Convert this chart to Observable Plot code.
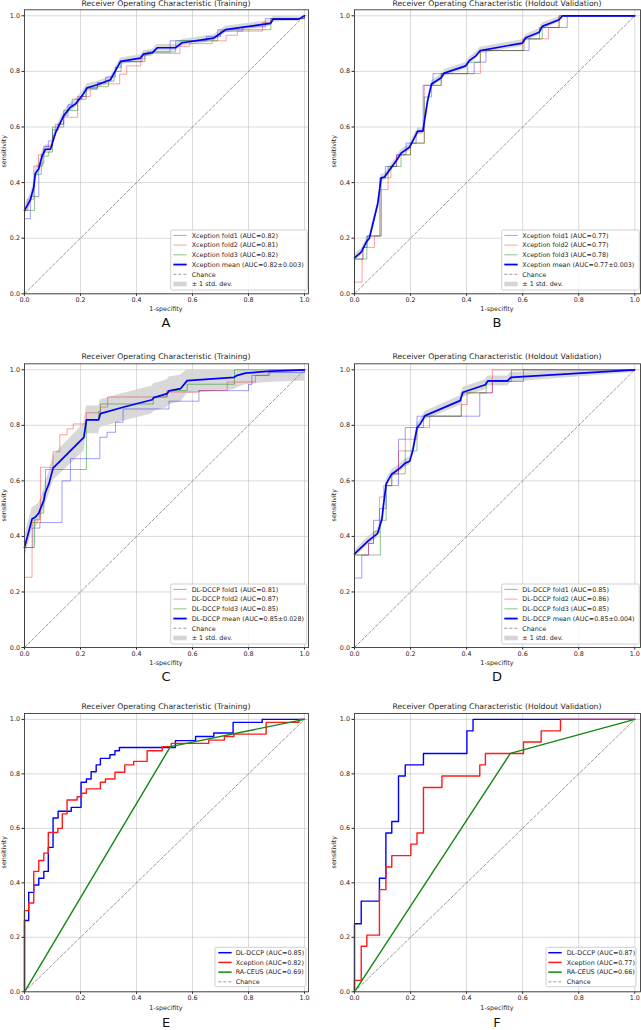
<!DOCTYPE html>
<html><head><meta charset="utf-8">
<script src="https://cdn.jsdelivr.net/npm/d3@7"></script>
<script src="https://cdn.jsdelivr.net/npm/@observablehq/plot@0.6"></script>
<style>
body{margin:0;background:#fff;}
#page{position:relative;width:641px;height:1030px;overflow:hidden;background:#fff;}
#page svg{position:absolute;}
</style></head><body><div id="page"></div>
<script>
// ---------- shared text / ticks ----------
const TICKS = [0, 0.2, 0.4, 0.6, 0.8, 1.0];
const CHANCE = [[0, 0], [1, 1]];
const TITLE_TRAIN = "Receiver Operating Characteristic (Training)";
const TITLE_HOLD = "Receiver Operating Characteristic (Holdout Validation)";
const X_LABEL = "1-specifity";
const Y_LABEL = "sensitivity";
const LETTERS = ["A", "B", "C", "D", "E", "F"];

// ---------- Panel A : Xception, training ----------
const A_fold1 = [[0,0],[0,0.27],[0.021,0.35],[0.051,0.43],[0.06,0.47],[0.069,0.53],[0.085,0.55],[0.10,0.59],[0.12,0.61],[0.14,0.64],[0.155,0.68],[0.17,0.70],[0.205,0.71],[0.22,0.74],[0.26,0.76],[0.29,0.78],[0.325,0.815],[0.345,0.835],[0.42,0.86],[0.44,0.87],[0.52,0.91],[0.65,0.925],[0.70,0.945],[0.78,0.96],[0.86,0.99],[1,1]];
const A_fold2 = [[0,0],[0,0.30],[0.012,0.34],[0.033,0.46],[0.05,0.50],[0.07,0.52],[0.085,0.53],[0.10,0.57],[0.11,0.61],[0.14,0.635],[0.19,0.71],[0.235,0.735],[0.26,0.755],[0.34,0.79],[0.365,0.82],[0.415,0.845],[0.43,0.865],[0.555,0.89],[0.59,0.90],[0.67,0.91],[0.72,0.93],[0.76,0.945],[0.85,0.975],[0.88,0.99],[1,1]];
const A_fold3 = [[0,0],[0,0.30],[0.036,0.43],[0.051,0.46],[0.065,0.495],[0.085,0.51],[0.10,0.60],[0.14,0.66],[0.19,0.70],[0.22,0.74],[0.26,0.745],[0.30,0.765],[0.32,0.80],[0.345,0.835],[0.43,0.86],[0.45,0.87],[0.54,0.91],[0.69,0.95],[0.88,0.99],[1,1]];
const A_mean = [[0,0.30],[0.021,0.338],[0.033,0.383],[0.039,0.434],[0.051,0.45],[0.063,0.497],[0.075,0.52],[0.093,0.52],[0.111,0.58],[0.14,0.641],[0.164,0.671],[0.182,0.683],[0.206,0.713],[0.224,0.741],[0.26,0.752],[0.307,0.77],[0.325,0.803],[0.343,0.836],[0.414,0.848],[0.426,0.863],[0.456,0.867],[0.474,0.885],[0.539,0.885],[0.563,0.903],[0.676,0.92],[0.718,0.95],[0.879,0.973],[0.888,0.988],[0.98,0.988],[1,1]];
const A_std = [0.02,0.02,0.02,0.02,0.02,0.018,0.015,0.015,0.015,0.015,0.015,0.015,0.015,0.015,0.012,0.012,0.012,0.012,0.012,0.012,0.012,0.012,0.012,0.012,0.012,0.012,0.01,0.01,0.008,0];
const A_legend = ["Xception fold1 (AUC=0.82)","Xception fold2 (AUC=0.81)","Xception fold3 (AUC=0.82)","Xception mean (AUC=0.82±0.003)","Chance","± 1 std. dev."];

// ---------- Panel B : Xception, holdout ----------
const B_fold1 = [[0,0],[0,0.125],[0.03,0.167],[0.045,0.208],[0.09,0.417],[0.11,0.458],[0.15,0.5],[0.184,0.542],[0.22,0.583],[0.245,0.75],[0.28,0.792],[0.427,0.833],[0.469,0.875],[0.623,0.917],[0.66,0.958],[0.759,1.0],[1,1]];
const B_fold2 = [[0,0],[0,0.042],[0.027,0.125],[0.03,0.167],[0.071,0.208],[0.095,0.375],[0.12,0.417],[0.13,0.458],[0.15,0.5],[0.2,0.542],[0.249,0.75],[0.31,0.792],[0.449,0.875],[0.6,0.917],[0.692,0.958],[0.73,1.0],[1,1]];
const B_fold3 = [[0,0],[0,0.125],[0.044,0.208],[0.095,0.417],[0.12,0.458],[0.166,0.5],[0.2,0.542],[0.249,0.708],[0.275,0.75],[0.309,0.792],[0.404,0.833],[0.449,0.875],[0.605,0.917],[0.67,0.958],[0.73,1.0],[1,1]];
const B_mean = [[0,0.129],[0.024,0.15],[0.042,0.186],[0.053,0.20],[0.083,0.324],[0.095,0.417],[0.107,0.42],[0.154,0.486],[0.166,0.506],[0.196,0.527],[0.226,0.585],[0.244,0.585],[0.261,0.695],[0.275,0.755],[0.309,0.777],[0.32,0.794],[0.397,0.82],[0.41,0.839],[0.434,0.857],[0.449,0.875],[0.599,0.902],[0.611,0.921],[0.659,0.941],[0.67,0.962],[0.73,0.986],[0.742,1.0],[1,1]];
const B_std = [0.012,0.012,0.012,0.012,0.012,0.012,0.012,0.012,0.012,0.012,0.012,0.012,0.012,0.012,0.012,0.012,0.012,0.012,0.012,0.012,0.012,0.012,0.012,0.012,0.01,0.006,0.006];
const B_legend = ["Xception fold1 (AUC=0.77)","Xception fold2 (AUC=0.77)","Xception fold3 (AUC=0.78)","Xception mean (AUC=0.77±0.003)","Chance","± 1 std. dev."];

// ---------- Panel C : DL-DCCP, training ----------
const C_fold1 = [[0,0],[0,0.36],[0.03,0.43],[0.055,0.45],[0.134,0.60],[0.164,0.68],[0.269,0.757],[0.295,0.775],[0.325,0.811],[0.352,0.859],[0.516,0.887],[0.623,0.925],[0.80,0.947],[0.812,0.98],[0.87,0.99],[1,1]];
const C_fold2 = [[0,0],[0,0.253],[0.027,0.45],[0.057,0.649],[0.102,0.705],[0.126,0.766],[0.152,0.787],[0.174,0.805],[0.221,0.845],[0.271,0.866],[0.297,0.902],[0.507,0.92],[0.623,0.925],[0.724,0.956],[0.825,0.98],[0.876,1.0],[1,1]];
const C_fold3 = [[0,0],[0,0.36],[0.036,0.46],[0.055,0.484],[0.069,0.559],[0.075,0.641],[0.221,0.82],[0.265,0.85],[0.271,0.877],[0.46,0.902],[0.51,0.925],[0.581,0.948],[0.75,1.0],[1,1]];
const C_mean = [[0,0.36],[0.027,0.463],[0.039,0.47],[0.051,0.484],[0.057,0.50],[0.069,0.53],[0.075,0.559],[0.087,0.589],[0.102,0.646],[0.212,0.757],[0.221,0.82],[0.265,0.82],[0.271,0.842],[0.355,0.866],[0.456,0.892],[0.462,0.90],[0.51,0.914],[0.516,0.924],[0.557,0.932],[0.581,0.961],[0.748,0.973],[0.76,0.98],[0.789,0.988],[0.867,0.994],[1,1]];
const C_std = [0.04,0.04,0.04,0.035,0.035,0.035,0.04,0.04,0.045,0.05,0.05,0.05,0.05,0.05,0.05,0.05,0.05,0.05,0.048,0.047,0.045,0.045,0.042,0.04,0.04];
const C_legend = ["DL-DCCP fold1 (AUC=0.81)","DL-DCCP fold2 (AUC=0.87)","DL-DCCP fold3 (AUC=0.85)","DL-DCCP mean (AUC=0.85±0.028)","Chance","± 1 std. dev."];

// ---------- Panel D : DL-DCCP, holdout ----------
const D_fold1 = [[0,0],[0,0.25],[0.026,0.333],[0.05,0.375],[0.068,0.458],[0.089,0.5],[0.113,0.583],[0.157,0.75],[0.181,0.792],[0.223,0.833],[0.447,0.917],[0.492,0.958],[0.603,1.0],[1,1]];
const D_fold2 = [[0,0],[0,0.333],[0.05,0.375],[0.068,0.417],[0.089,0.542],[0.104,0.583],[0.133,0.625],[0.157,0.708],[0.181,0.75],[0.223,0.792],[0.268,0.833],[0.381,0.875],[0.402,0.917],[0.492,1.0],[1,1]];
const D_fold3 = [[0,0],[0,0.333],[0.092,0.458],[0.113,0.583],[0.133,0.625],[0.181,0.708],[0.223,0.792],[0.246,0.833],[0.381,0.917],[0.47,0.958],[0.56,1.0],[1,1]];
const D_mean = [[0,0.337],[0.05,0.385],[0.082,0.41],[0.098,0.463],[0.104,0.517],[0.113,0.589],[0.133,0.625],[0.145,0.633],[0.163,0.647],[0.181,0.664],[0.197,0.671],[0.208,0.709],[0.223,0.791],[0.235,0.806],[0.252,0.835],[0.377,0.889],[0.387,0.919],[0.467,0.946],[0.476,0.96],[0.546,0.96],[0.558,0.973],[1,1]];
const D_std = [0.012,0.015,0.015,0.015,0.015,0.015,0.015,0.015,0.015,0.015,0.015,0.015,0.015,0.015,0.015,0.018,0.018,0.018,0.018,0.018,0.018,0.01];
const D_legend = ["DL-DCCP fold1 (AUC=0.85)","DL-DCCP fold2 (AUC=0.86)","DL-DCCP fold3 (AUC=0.85)","DL-DCCP mean (AUC=0.85±0.004)","Chance","± 1 std. dev."];

// ---------- Panel E : comparison, training ----------
const E_dl = [[0,0],[0,0.262],[0.015,0.365],[0.033,0.392],[0.051,0.417],[0.069,0.442],[0.085,0.53],[0.102,0.638],[0.12,0.663],[0.167,0.677],[0.202,0.769],[0.221,0.781],[0.238,0.808],[0.256,0.833],[0.271,0.857],[0.305,0.87],[0.323,0.885],[0.339,0.897],[0.539,0.922],[0.611,0.937],[0.676,0.95],[0.745,0.989],[0.849,1.0],[1,1]];
const E_xc = [[0,0],[0,0.298],[0.015,0.326],[0.033,0.442],[0.051,0.482],[0.069,0.509],[0.085,0.585],[0.119,0.6],[0.135,0.653],[0.152,0.704],[0.188,0.716],[0.204,0.729],[0.221,0.745],[0.271,0.769],[0.289,0.781],[0.323,0.806],[0.358,0.833],[0.39,0.846],[0.438,0.885],[0.492,0.9],[0.524,0.912],[0.658,0.924],[0.714,0.937],[0.748,0.946],[0.863,0.989],[0.98,1.0],[1,1]];
const E_ra = [[0,0],[0.521,0.90],[1,1]];
const E_legend = ["DL-DCCP (AUC=0.85)","Xception (AUC=0.82)","RA-CEUS (AUC=0.69)","Chance"];

// ---------- Panel F : comparison, holdout ----------
const F_dl = [[0,0],[0,0.25],[0.024,0.333],[0.089,0.417],[0.112,0.583],[0.133,0.625],[0.157,0.792],[0.181,0.833],[0.246,0.875],[0.401,0.958],[0.423,1.0],[1,1]];
const F_xc = [[0,0],[0,0.042],[0.024,0.167],[0.044,0.208],[0.089,0.375],[0.112,0.458],[0.133,0.5],[0.201,0.542],[0.223,0.583],[0.246,0.75],[0.312,0.792],[0.447,0.833],[0.467,0.875],[0.603,0.917],[0.666,0.958],[0.735,1.0],[1,1]];
const F_ra = [[0,0],[0.556,0.875],[1,1]];
const F_legend = ["DL-DCCP (AUC=0.87)","Xception (AUC=0.77)","RA-CEUS (AUC=0.66)","Chance"];

// ---------- layout ----------
const FONT = "DejaVu Sans, Verdana, sans-serif";
const ROWS = [
  {top: 0,   H: 335, fT: 9.3,   fB: 293.3, titleY: 3.4,   xlabY: 309,    letterY: 322},
  {top: 340, H: 350, fT: 363.3, fB: 647,   titleY: 356.7, xlabY: 663,    letterY: 676},
  {top: 690, H: 340, fT: 713,   fB: 991.3, titleY: 706,   xlabY: 1007.3, letterY: 1022.5}
];
const COLS = [
  {left: 0,   W: 320, fL: 24,  fR: 308, xMax: 1.0143},
  {left: 320, W: 321, fL: 354, fR: 640, xMax: 1.0205}
];
const px = d => d[0], py = d => d[1];
const page = document.getElementById("page");

function drawPanel(idx, cfg) {
  const row = ROWS[Math.floor(idx / 2)], col = COLS[idx % 2];
  const marks = [
    Plot.ruleX(TICKS, {stroke: "#b0b0b0", strokeOpacity: 0.6, strokeWidth: 0.8}),
    Plot.ruleY(TICKS, {stroke: "#b0b0b0", strokeOpacity: 0.6, strokeWidth: 0.8})
  ];
  if (cfg.mean) {
    const m = cfg.mean, s = cfg.std;
    marks.push(Plot.areaY(m, {x: px, y1: (d, i) => Math.max(0, d[1] - s[i]), y2: (d, i) => Math.min(1, d[1] + s[i]), fill: "#d4d4d4", fillOpacity: 0.9}));
    cfg.folds.forEach((f, i) => marks.push(Plot.line(f, {x: px, y: py, curve: "step-after", stroke: ["blue", "red", "green"][i], strokeOpacity: i === 2 ? 0.45 : 0.38, strokeWidth: 1})));
    marks.push(Plot.line(CHANCE, {x: px, y: py, stroke: "#808080", strokeWidth: 0.8, strokeDasharray: "3,2"}));
    marks.push(Plot.line(m, {x: px, y: py, stroke: "blue", strokeWidth: 1.7}));
  } else {
    cfg.curves.forEach((c, i) => marks.push(Plot.line(c, {x: px, y: py, curve: i === 2 ? "linear" : "step-after", stroke: ["#0000ff", "#ff1a1a", "#118811"][i], strokeWidth: 1.4})));
    marks.push(Plot.line(CHANCE, {x: px, y: py, stroke: "#808080", strokeWidth: 0.8, strokeDasharray: "3,2"}));
  }
  marks.push(Plot.frame({stroke: "#3c3c3c", strokeWidth: 0.9}));

  const svg = Plot.plot({
    width: col.W, height: row.H,
    marginLeft: col.fL - col.left, marginRight: col.left + col.W - col.fR,
    marginTop: row.fT - row.top, marginBottom: row.top + row.H - row.fB,
    x: {domain: [0, col.xMax], ticks: TICKS, tickFormat: ".1f", tickSize: 2.5, tickPadding: 1.5, label: null},
    y: {domain: [0, 1.0216], ticks: TICKS, tickFormat: ".1f", tickSize: 2.5, tickPadding: 2, label: null},
    style: {fontFamily: FONT, fontSize: "6.4px", color: "#262626", background: "transparent", overflow: "visible"},
    marks
  });
  svg.style.left = col.left + "px";
  svg.style.top = row.top + "px";
  page.appendChild(svg);

  const g = d3.select(svg).append("g").attr("font-family", FONT).attr("fill", "#262626");
  const cx = (col.fL + col.fR) / 2 - col.left;
  g.append("text").attr("x", cx).attr("y", row.titleY - row.top).attr("dy", "0.35em").attr("text-anchor", "middle").attr("font-size", "7.7px").text(cfg.title);
  g.append("text").attr("x", cx).attr("y", row.xlabY - row.top).attr("dy", "0.35em").attr("text-anchor", "middle").attr("font-size", "6.4px").text(X_LABEL);
  g.append("text").attr("transform", `translate(${col.fL - 20.5 - col.left},${(row.fT + row.fB) / 2 - row.top}) rotate(-90)`).attr("dy", "0.35em").attr("text-anchor", "middle").attr("font-size", "6.4px").text(Y_LABEL);
  g.append("text").attr("x", cx).attr("y", row.letterY - row.top).attr("dy", "0.36em").attr("text-anchor", "middle").attr("font-size", "13px").attr("fill", "#111").text(LETTERS[idx]);

  // legend
  const L = cfg.legendBox;
  const lg = g.append("g").attr("transform", `translate(${L.x - col.left},${L.y - row.top})`);
  lg.append("rect").attr("width", L.w).attr("height", L.h).attr("rx", 1.5).attr("fill", "white").attr("fill-opacity", 0.85).attr("stroke", "#c4c4c4").attr("stroke-width", 0.8);
  cfg.legend.forEach((lab, i) => {
    const y = 5.4 + i * 9.72;
    const st = cfg.legendStyles[i];
    if (st.patch) {
      lg.append("rect").attr("x", L.hx).attr("y", y - 2.3).attr("width", 13.4).attr("height", 4.6).attr("fill", "#d4d4d4");
    } else {
      lg.append("line").attr("x1", L.hx).attr("x2", L.hx + 13.4).attr("y1", y).attr("y2", y)
        .attr("stroke", st.c).attr("stroke-opacity", st.o || 1).attr("stroke-width", st.w)
        .attr("stroke-dasharray", st.dash || null);
    }
    lg.append("text").attr("x", L.tx).attr("y", y).attr("dy", "0.35em").attr("text-anchor", "start").attr("font-size", "6.4px").text(lab);
  });
}

const foldStyles = [
  {c: "blue", o: 0.38, w: 1}, {c: "red", o: 0.38, w: 1}, {c: "green", o: 0.45, w: 1},
  {c: "blue", w: 1.8}, {c: "#808080", w: 0.8, dash: "3,2"}, {patch: true}
];
const cmpStyles = [
  {c: "#0000ff", w: 1.5}, {c: "#ff1a1a", w: 1.5}, {c: "#118811", w: 1.5}, {c: "#808080", w: 0.8, dash: "3,2"}
];

drawPanel(0, {title: TITLE_TRAIN, folds: [A_fold1, A_fold2, A_fold3], mean: A_mean, std: A_std, legend: A_legend, legendStyles: foldStyles,
  legendBox: {x: 170.7, y: 230, w: 136.6, h: 60, hx: 2.6, tx: 21}});
drawPanel(1, {title: TITLE_HOLD, folds: [B_fold1, B_fold2, B_fold3], mean: B_mean, std: B_std, legend: B_legend, legendStyles: foldStyles,
  legendBox: {x: 501.7, y: 230, w: 137.6, h: 60, hx: 2.6, tx: 20.6}});
drawPanel(2, {title: TITLE_TRAIN, folds: [C_fold1, C_fold2, C_fold3], mean: C_mean, std: C_std, legend: C_legend, legendStyles: foldStyles,
  legendBox: {x: 170.7, y: 584, w: 136, h: 60, hx: 2.6, tx: 21}});
drawPanel(3, {title: TITLE_HOLD, folds: [D_fold1, D_fold2, D_fold3], mean: D_mean, std: D_std, legend: D_legend, legendStyles: foldStyles,
  legendBox: {x: 501.7, y: 584, w: 137.6, h: 60, hx: 2.6, tx: 20.6}});
drawPanel(4, {title: TITLE_TRAIN, curves: [E_dl, E_xc, E_ra], legend: E_legend, legendStyles: cmpStyles,
  legendBox: {x: 215, y: 947.3, w: 91, h: 39.4, hx: 3.3, tx: 20.7}});
drawPanel(5, {title: TITLE_HOLD, curves: [F_dl, F_xc, F_ra], legend: F_legend, legendStyles: cmpStyles,
  legendBox: {x: 546, y: 947.3, w: 90, h: 39.4, hx: 2.3, tx: 20.7}});
</script>
</body></html>
